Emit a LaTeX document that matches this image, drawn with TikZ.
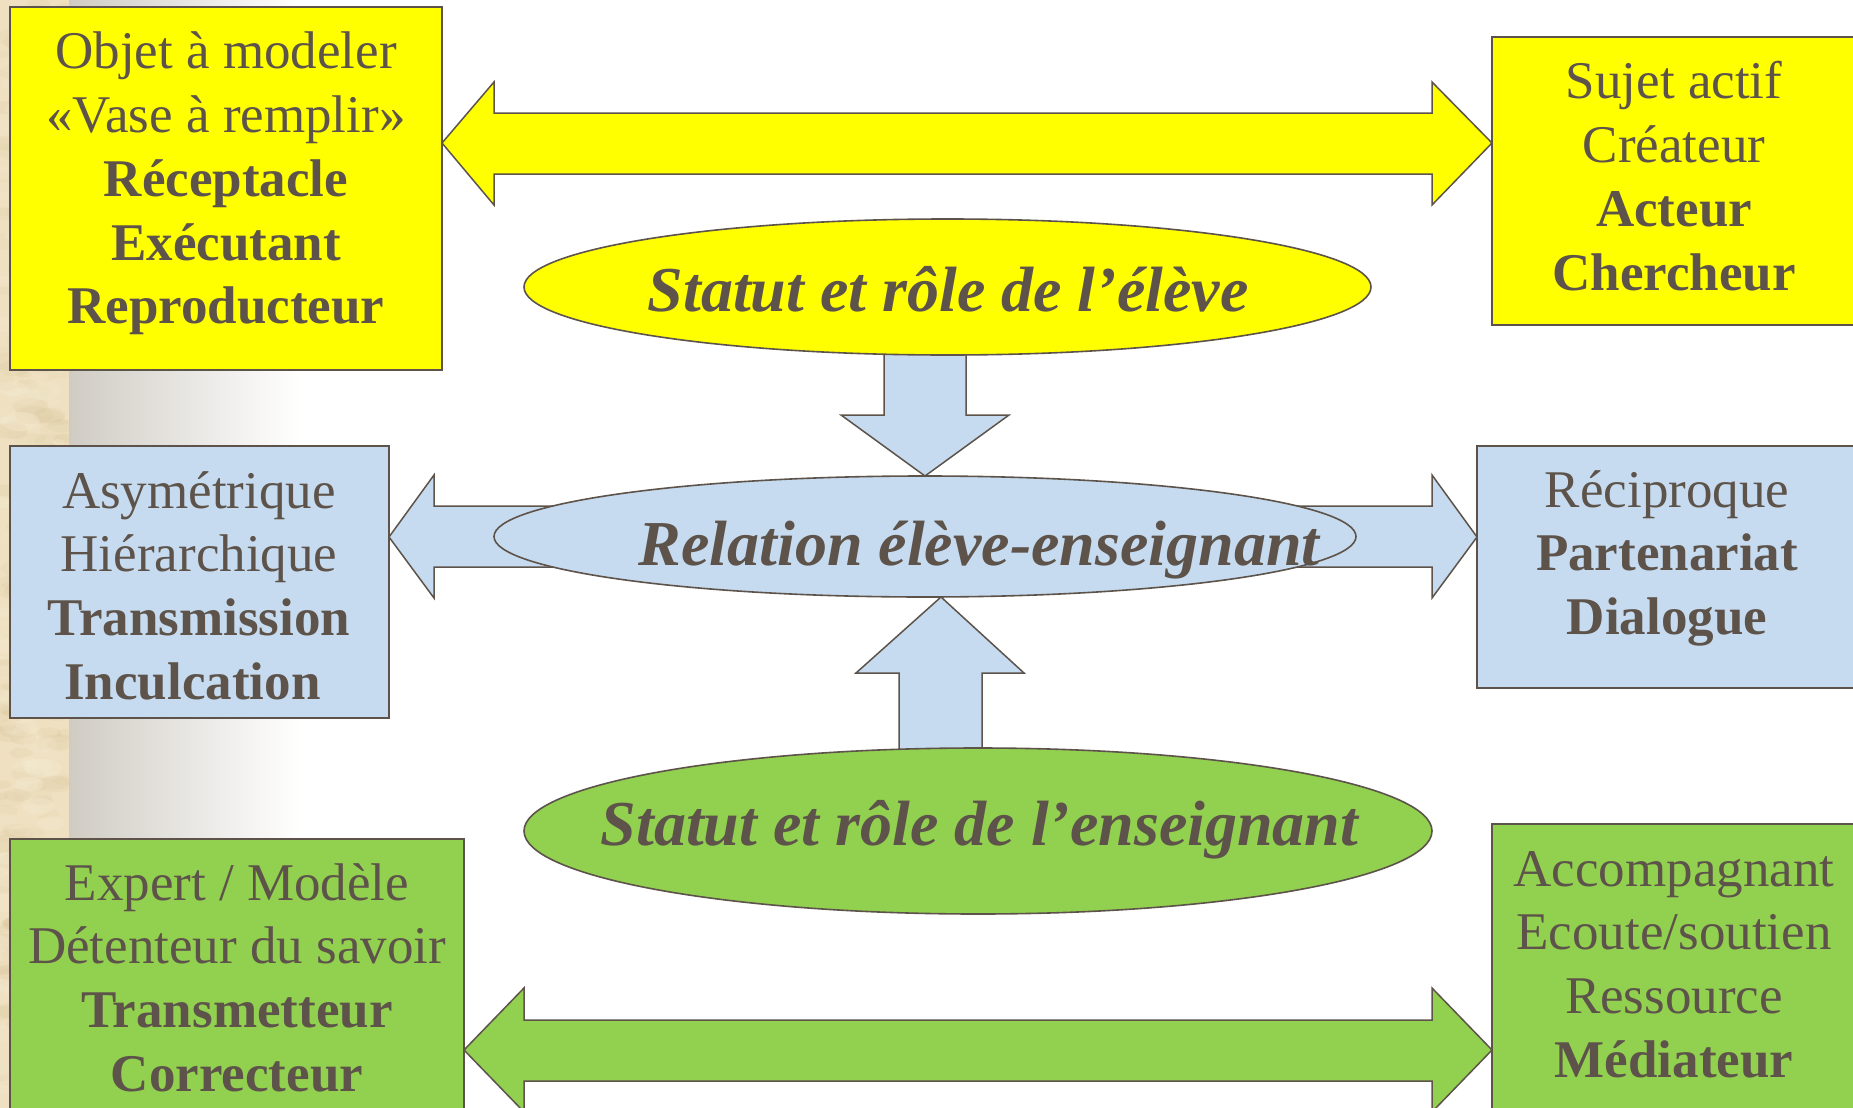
\documentclass[tikz,border=0pt]{standalone}
\usepackage{fontspec}
\setmainfont{Liberation Serif}
\usetikzlibrary{shapes.geometric}
\definecolor{ink}{RGB}{93,83,74}
\definecolor{yel}{RGB}{255,255,0}
\definecolor{blu}{RGB}{198,219,239}
\definecolor{grn}{RGB}{146,208,80}
\definecolor{parch}{RGB}{238,224,192}
\definecolor{parchdark}{RGB}{210,186,140}
\definecolor{parchlight}{RGB}{248,238,215}
\definecolor{gradgray}{RGB}{208,204,196}
\newcommand\stack[1]{\begin{tabular}[t]{@{}c@{}}#1\end{tabular}}
\tikzset{
  every node/.style={text=ink},
  panel/.style={draw=ink, line width=1.8pt, inner sep=0pt, outer sep=0pt, anchor=north west},
  oval/.style={ellipse, draw=ink, line width=1.6pt, inner sep=0pt, outer sep=0pt},
  blockarrow/.style={draw=ink, line width=1.5pt, line join=miter},
  boxtext/.style={anchor=base, inner sep=0pt, font=\fontsize{53}{63.7}\selectfont},
  ovaltext/.style={anchor=base, inner sep=0pt, font=\fontsize{64}{76}\selectfont\bfseries\itshape},
}
\begin{document}
\begin{tikzpicture}[x=1pt,y=-1pt]
\useasboundingbox (0,0) rectangle (1853,1108);
\clip (0,0) rectangle (1853,1108);
% background
\fill[white] (0,0) rectangle (1853,1108);
\shade[left color=gradgray, right color=white] (69,0) rectangle (300,1108);
\fill[parch] (0,0) rectangle (69,1108);
\begin{scope}
  \clip (0,0) rectangle (69,1108);
  \pgfmathsetseed{7}
  \foreach \i in {1,...,260} {
    \pgfmathsetmacro\xx{rnd*69}
    \pgfmathsetmacro\yy{rnd*1108}
    \pgfmathsetmacro\rr{3+rnd*6}
    \pgfmathsetmacro\op{0.04+rnd*0.12}
    \fill[parchdark, opacity=\op] (\xx,\yy) ellipse ({\rr*2.2} and \rr);
  }
  \foreach \i in {1,...,160} {
    \pgfmathsetmacro\xx{rnd*69}
    \pgfmathsetmacro\yy{rnd*1108}
    \pgfmathsetmacro\rr{3+rnd*7}
    \pgfmathsetmacro\op{0.1+rnd*0.2}
    \fill[parchlight, opacity=\op] (\xx,\yy) ellipse ({\rr*2} and \rr);
  }
\end{scope}

% yellow double arrow
\fill[yel, blockarrow] (442,143) -- (494,82) -- (494,113) -- (1432,113) -- (1432,82)
  -- (1492,143) -- (1432,205) -- (1432,174) -- (494,174) -- (494,205) -- cycle;
% green double arrow
\fill[grn, blockarrow] (464,1050) -- (524,988) -- (524,1020) -- (1432,1020) -- (1432,988)
  -- (1492,1050) -- (1432,1112) -- (1432,1081) -- (524,1081) -- (524,1112) -- cycle;
% blue down arrow
\fill[blu, blockarrow] (884,330) -- (966,330) -- (966,415) -- (1009,415) -- (925,476)
  -- (841,415) -- (884,415) -- cycle;
% blue horizontal double arrow
\fill[blu, blockarrow] (389,537) -- (434,475) -- (434,506) -- (1432,506) -- (1432,475)
  -- (1477,537) -- (1432,598) -- (1432,567) -- (434,567) -- (434,598) -- cycle;
% blue up arrow
\fill[blu, blockarrow] (941,597) -- (1024,673) -- (982,673) -- (982,780) -- (899,780)
  -- (899,673) -- (856,673) -- cycle;

% boxes
\node[panel, fill=yel, minimum width=432, minimum height=363] (B1) at (10,7) {};
\node[panel, fill=blu, minimum width=379, minimum height=272] (B2) at (10,446) {};
\node[panel, fill=grn, minimum width=454, minimum height=290] (B3) at (10,839) {};
\node[panel, fill=yel, minimum width=364, minimum height=288] (B4) at (1492,37) {};
\node[panel, fill=blu, minimum width=379, minimum height=242] (B5) at (1477,446) {};
\node[panel, fill=grn, minimum width=364, minimum height=300] (B6) at (1492,824) {};

% ellipses
\node[oval, fill=yel, minimum width=847, minimum height=136] (E1) at (947.5,287) {};
\node[oval, fill=blu, minimum width=862, minimum height=121] (E2) at (925,536.5) {};
\node[oval, fill=grn, minimum width=908, minimum height=166] (E3) at (978,831) {};

% ellipse texts
\node[ovaltext] (E1t) at (948,311) {Statut et rôle de l’élève};
\node[ovaltext] (E2t) at (979,565) {Relation élève-enseignant};
\node[ovaltext] (E3t) at (979.5,845) {Statut et rôle de l’enseignant};

% box texts
\node[boxtext] (T1) at (226,69) {\stack{Objet à modeler\\ «Vase à remplir»\\ \textbf{Réceptacle}\\ \textbf{Exécutant}\\ \textbf{Reproducteur}}};
\node[boxtext] (T2) at (199,508) {\stack{Asymétrique\\ Hiérarchique\\ \textbf{Transmission}\\ \textbf{Inculcation}\hspace*{0.25em}}};
\node[boxtext] (T3) at (237,900) {\stack{Expert / Modèle\\ Détenteur du savoir\\ \textbf{Transmetteur}\\ \textbf{Correcteur}}};
\node[boxtext] (T4) at (1674,99) {\stack{Sujet actif\\ Créateur\\ \textbf{Acteur}\\ \textbf{Chercheur}}};
\node[boxtext] (T5) at (1667,507) {\stack{Réciproque\\ \textbf{Partenariat}\\ \textbf{Dialogue}}};
\node[boxtext] (T6) at (1674,886) {\stack{Accompagnant\\ Ecoute/soutien\\ Ressource\\ \textbf{Médiateur}}};
\end{tikzpicture}
\end{document}
